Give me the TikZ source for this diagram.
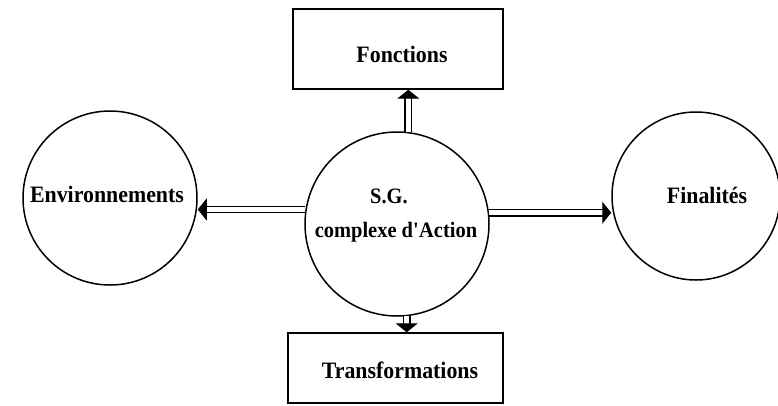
\documentclass[tikz,border=0pt]{standalone}
\usepackage{fontspec}
\setmainfont{Liberation Serif}[FakeStretch=0.93]
\usetikzlibrary{arrows.meta}
\begin{document}
\begin{tikzpicture}[x=1pt,y=-1pt,
  every node/.style={font=\bfseries\fontsize{23.5}{27}\selectfont},
  ring/.style={draw, circle, line width=1.5pt, inner sep=0pt},
  panel/.style={draw, rectangle, line width=1.4pt, inner sep=0pt},
  label/.style={inner sep=0pt},
  small/.style={font=\bfseries\fontsize{22}{26}\selectfont},
  link/.style={double, double distance=5.5pt, line width=1.2pt,
    -{Triangle[width=22pt,length=9pt]}}]
\useasboundingbox (0,0) rectangle (778,405);

% central system and its surroundings
\node[ring, minimum size=184pt] (sg) at (397,224) {};
\node[label, small] (sgt) at (389,196) {S.G.};
\node[label, small] (sgc) at (396,232) {complexe d\textquotesingle Action};

\node[ring, minimum size=174pt] (env) at (110,198) {};
\node[label] (envt) at (107,194) {Environnements};
\node[ring, minimum size=168pt] (fin) at (696,196) {};
\node[label] (fint) at (707,195) {Finalités};

\node[panel, minimum width=210pt, minimum height=80pt] (fct) at (398,49) {};
\node[label] (fctt) at (402,54) {Fonctions};
\node[panel, minimum width=215pt, minimum height=70pt] (trf) at (395.5,368) {};
\node[label] (trft) at (400,370) {Transformations};

% double-lined flows leaving the system
\draw[link] (sg.171) -- (sg.171 -| env.east);
\draw[link] (sg.7) -- (sg.7 -| fin.west);
\draw[link] (sg.83) -- (sg.83 |- fct.south);
\draw[link] (sg.276) -- (sg.276 |- trf.north);
\end{tikzpicture}
\end{document}
